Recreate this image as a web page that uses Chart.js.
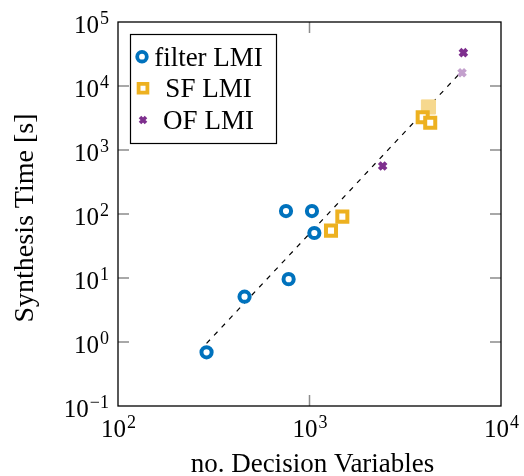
<!DOCTYPE html>
<html>
<head>
<meta charset="utf-8">
<script src="https://cdn.jsdelivr.net/npm/chart.js@4/dist/chart.umd.min.js"></script>
<style>
  html, body { margin: 0; padding: 0; background: #fff; }
</style>
</head>
<body>
<canvas id="timeCanvas" width="524" height="476"></canvas>
<script>
// values
const filterVars = [290, 458, 778, 754, 1030, 1060];
const filterTime = [0.69, 5.1, 9.6, 111, 111, 50.5];
const sfVars = [1295, 1484, 3900, 4270];
const sfTime = [55, 91, 3240, 2670];
const sfFadedVars = [4180];
const sfFadedTime = [4700];
const ofVars = [2410, 6360];
const ofTime = [562, 33200];
const ofFadedVars = [6260];
const ofFadedTime = [16100];
const fitVars = [290, 6000];
const fitTime = [0.95, 15000];
const xExponents = [2, 3, 4];
const yExponents = [-1, 0, 1, 2, 3, 4, 5];
const legendLabels = ['filter LMI', 'SF LMI', 'OF LMI'];

const BLUE = 'rgb(0,114,189)';
const ORANGE = 'rgb(237,177,32)';
const PURPLE = 'rgb(126,47,142)';
const SERIF = '"Liberation Serif", "Times New Roman", serif';

const pts = (xs, ys) => xs.map((x, i) => ({ x: x, y: ys[i] }));

function drawPow(ctx, exp, x, baseline, align) {
  const base = '10', sup = String(exp).replace('-', '\u2212');
  ctx.font = '25px ' + SERIF;
  const wb = ctx.measureText(base).width;
  ctx.font = '18px ' + SERIF;
  const ws = ctx.measureText(sup).width;
  let left = x;
  if (align === 'center') left = x - (wb + ws) / 2;
  if (align === 'right') left = x - (wb + ws);
  ctx.textAlign = 'left';
  ctx.textBaseline = 'alphabetic';
  ctx.font = '25px ' + SERIF;
  ctx.fillText(base, left, baseline);
  ctx.font = '18px ' + SERIF;
  ctx.fillText(sup, left + wb + 1, baseline - 9);
}

function marker(ctx, style, x, y, r, lw, color) {
  ctx.save();
  ctx.strokeStyle = color;
  ctx.lineWidth = lw;
  ctx.beginPath();
  if (style === 'circle') {
    ctx.arc(x, y, r, 0, Math.PI * 2);
  } else if (style === 'rect') {
    ctx.rect(x - r, y - r, 2 * r, 2 * r);
  } else {
    ctx.moveTo(x - r, y - r); ctx.lineTo(x + r, y + r);
    ctx.moveTo(x - r, y + r); ctx.lineTo(x + r, y - r);
  }
  ctx.stroke();
  ctx.restore();
}

const axisDecor = {
  id: 'axisDecor',
  afterDraw(chart) {
    const ctx = chart.ctx, a = chart.chartArea;
    const xs = chart.scales.x, ys = chart.scales.y;
    ctx.save();
    // inward tick marks
    ctx.strokeStyle = 'rgb(140,140,140)';
    ctx.lineWidth = 1.5;
    ctx.beginPath();
    yExponents.slice(1, -1).forEach(e => {
      const py = ys.getPixelForValue(Math.pow(10, e));
      ctx.moveTo(a.left, py); ctx.lineTo(a.left + 11, py);
      ctx.moveTo(a.right, py); ctx.lineTo(a.right - 11, py);
    });
    xExponents.slice(1, -1).forEach(e => {
      const px = xs.getPixelForValue(Math.pow(10, e));
      ctx.moveTo(px, a.bottom); ctx.lineTo(px, a.bottom - 11);
      ctx.moveTo(px, a.top); ctx.lineTo(px, a.top + 11);
    });
    ctx.stroke();
    // frame
    ctx.strokeStyle = '#000';
    ctx.lineWidth = 1.3;
    ctx.strokeRect(a.left, a.top, a.right - a.left, a.bottom - a.top);
    // tick labels
    ctx.fillStyle = '#000';
    yExponents.forEach(e => {
      const py = ys.getPixelForValue(Math.pow(10, e));
      drawPow(ctx, e, a.left - 10, py + 11, 'right');
    });
    xExponents.forEach(e => {
      const px = xs.getPixelForValue(Math.pow(10, e));
      drawPow(ctx, e, px, 437, 'center');
    });
    // axis titles
    ctx.font = '27px ' + SERIF;
    ctx.textAlign = 'center';
    ctx.textBaseline = 'alphabetic';
    ctx.fillText('no. Decision Variables', (a.left + a.right) / 2 + 3, 472);
    ctx.save();
    ctx.translate(33, 218);
    ctx.rotate(-Math.PI / 2);
    ctx.font = '28px ' + SERIF;
    ctx.fillText('Synthesis Time [s]', 0, 0);
    ctx.restore();
    // legend
    ctx.fillStyle = '#fff';
    ctx.fillRect(130, 34, 146, 109);
    ctx.strokeStyle = '#000';
    ctx.lineWidth = 1.2;
    ctx.strokeRect(130.5, 34.5, 146, 109);
    const rows = [56.7, 88.3, 120];
    marker(ctx, 'circle', 142, rows[0], 4.8, 3.8, BLUE);
    marker(ctx, 'rect', 143, rows[1], 4.4, 3.8, ORANGE);
    marker(ctx, 'cross', 143, rows[2], 3, 3.6, PURPLE);
    ctx.fillStyle = '#000';
    ctx.font = '27px ' + SERIF;
    ctx.textAlign = 'center';
    legendLabels.forEach((t, i) => ctx.fillText(t, 208.5, rows[i] + 9));
    ctx.restore();
  }
};

new Chart(document.getElementById('timeCanvas'), {
  type: 'scatter',
  data: {
    datasets: [
      {
        label: 'fit',
        data: pts(fitVars, fitTime),
        showLine: true,
        borderColor: '#000',
        borderWidth: 1.2,
        borderDash: [5, 6],
        pointRadius: 0,
        order: 10
      },
      {
        label: 'SF faded',
        data: pts(sfFadedVars, sfFadedTime),
        pointStyle: 'rect',
        pointRadius: 10,
        borderWidth: 1,
        borderColor: 'rgb(246,216,142)',
        backgroundColor: 'rgb(246,216,142)',
        order: 5
      },
      {
        label: 'OF faded',
        data: pts(ofFadedVars, ofFadedTime),
        pointStyle: 'crossRot',
        pointRadius: 4.8,
        borderWidth: 4,
        borderColor: 'rgb(195,160,205)',
        order: 5
      },
      {
        label: legendLabels[0],
        data: pts(filterVars, filterTime),
        pointStyle: 'circle',
        pointRadius: 5.1,
        borderWidth: 4,
        borderColor: BLUE,
        backgroundColor: '#fff',
        order: 1
      },
      {
        label: legendLabels[1],
        data: pts(sfVars, sfTime),
        pointStyle: 'rect',
        pointRadius: 7.1,
        borderWidth: 4,
        borderColor: ORANGE,
        backgroundColor: '#fff',
        order: 1
      },
      {
        label: legendLabels[2],
        data: pts(ofVars, ofTime),
        pointStyle: 'crossRot',
        pointRadius: 4.8,
        borderWidth: 4,
        borderColor: PURPLE,
        order: 1
      }
    ]
  },
  options: {
    responsive: false,
    animation: false,
    devicePixelRatio: 1,
    layout: { padding: { top: 22, right: 23, left: 0, bottom: 0 } },
    plugins: { legend: { display: false }, tooltip: { enabled: false } },
    scales: {
      x: {
        type: 'logarithmic',
        min: 100,
        max: 10000,
        grid: { display: false },
        border: { display: false },
        ticks: { display: false },
        afterFit: s => { s.height = 70; }
      },
      y: {
        type: 'logarithmic',
        min: 0.1,
        max: 100000,
        grid: { display: false },
        border: { display: false },
        ticks: { display: false },
        afterFit: s => { s.width = 118; }
      }
    }
  },
  plugins: [axisDecor]
});
</script>
</body>
</html>
